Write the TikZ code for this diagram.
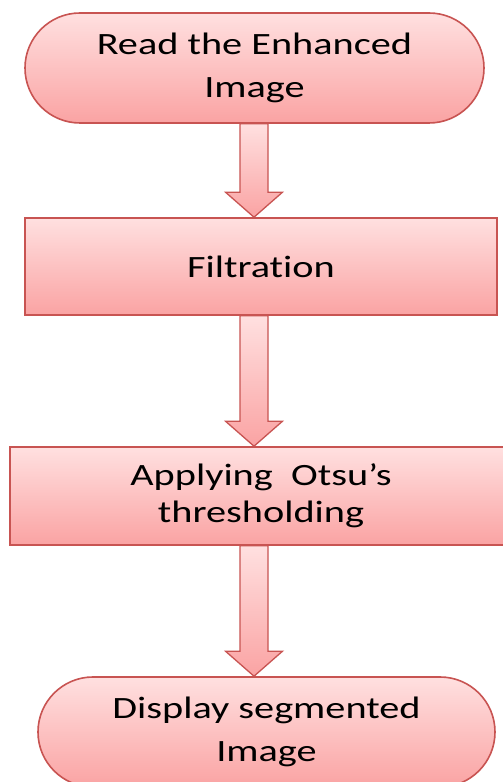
\documentclass[tikz,border=0pt]{standalone}
\usepackage{fontspec}
\newfontfamily\calfont[FakeStretch=1.3, Ligatures=NoCommon]{Carlito}
\usetikzlibrary{shapes.misc,calc}
\definecolor{fillTop}{RGB}{255,224,224}
\definecolor{fillBot}{RGB}{250,163,163}
\definecolor{edge}{RGB}{200,84,82}
\tikzset{
  x=1pt, y=1pt,
  boxbase/.style={draw=edge, line width=1.6pt, top color=fillTop, bottom color=fillBot,
    align=center, text=black, inner sep=0pt,
    font=\calfont\fontsize{31}{43.5}\selectfont},
  termbox/.style={boxbase, rounded rectangle, minimum height=110pt},
  procbox/.style={boxbase, rectangle},
  flowarrow/.style={draw=edge, line width=1.3pt, top color=fillTop, bottom color=fillBot, line join=miter}
}
\newcommand{\flowarr}[2]{%
  \path[flowarrow] ($(#1.south -| ax)+(-14,0)$) -- ($(#2.north -| ax)+(-14,25)$)
    -- ($(#2.north -| ax)+(-28.5,25)$) -- (#2.north -| ax)
    -- ($(#2.north -| ax)+(28.5,25)$) -- ($(#2.north -| ax)+(14,25)$)
    -- ($(#1.south -| ax)+(14,0)$) -- cycle;}
\begin{document}
\begin{tikzpicture}
\useasboundingbox (0,0) rectangle (503,782);
\clip (0,0) rectangle (503,782);
\fill[white] (0,0) rectangle (503,782);
\coordinate (ax) at (254,0);
\node[termbox, minimum width=459pt] (n1) at (254.5,714) {Read the Enhanced\\Image};
\node[procbox, minimum width=472pt, minimum height=97pt] (n2) at (261,515.5) {Filtrat\kern0pt ion};
\node[procbox, minimum width=502pt, minimum height=98pt,
      font=\calfont\fontsize{31}{37}\selectfont] (n3) at (261,286) {Applying~~Otsu’s\\thresholding};
\node[termbox, minimum width=457pt] (n4) at (266.5,50) {Display segmented\\Image};
\flowarr{n1}{n2}
\flowarr{n2}{n3}
\flowarr{n3}{n4}
\end{tikzpicture}
\end{document}
